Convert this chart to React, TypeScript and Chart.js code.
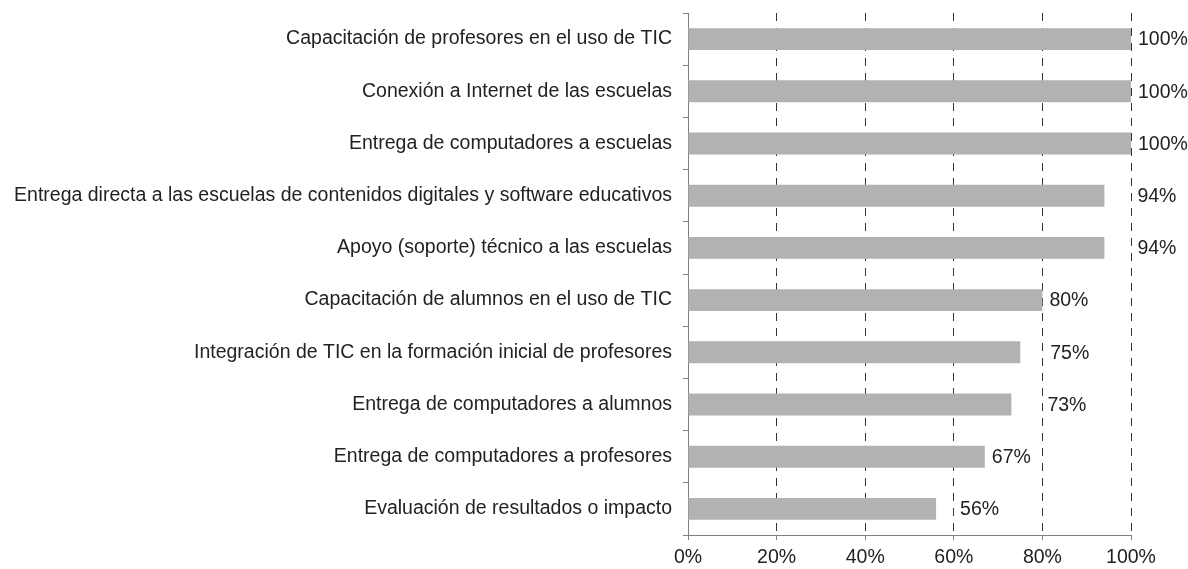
import React, { useEffect, useRef } from "react";
import { Chart, registerables } from "chart.js";

Chart.register(...registerables);

const categories = [
  "Capacitación de profesores en el uso de TIC",
  "Conexión a Internet de las escuelas",
  "Entrega de computadores a escuelas",
  "Entrega directa a las escuelas de contenidos digitales y software educativos",
  "Apoyo (soporte) técnico a las escuelas",
  "Capacitación de alumnos en el uso de TIC",
  "Integración de TIC en la formación inicial de profesores",
  "Entrega de computadores a alumnos",
  "Entrega de computadores a profesores",
  "Evaluación de resultados o impacto",
];

const values = [100, 100, 100, 94, 94, 80, 75, 73, 67, 56];

const xTicks = [0, 20, 40, 60, 80, 100];

const FONT = '"Liberation Sans", Arial, sans-serif';
const FONT_SIZE = 19.5;
const TEXT = "#222222";
const AXIS = "#808080";
// horizontal gap (px) between bar end and its value label, as placed in the reference
const labelGaps = [7, 7, 7, 33, 33, 7, 30, 36, 7, 24];

const valueLabels = {
  id: "valueLabels",
  afterDatasetsDraw(chart: any) {
    const ctx = chart.ctx;
    const meta = chart.getDatasetMeta(0);
    ctx.save();
    ctx.font = `${FONT_SIZE}px ${FONT}`;
    ctx.fillStyle = TEXT;
    ctx.textAlign = "left";
    ctx.textBaseline = "middle";
    meta.data.forEach((bar: any, i: number) => {
      ctx.fillText(`${values[i]}%`, bar.x + labelGaps[i], bar.y + 1);
    });
    ctx.restore();
  },
};

export default function App() {
  const ref = useRef<HTMLCanvasElement>(null);
  useEffect(() => {
    if (!ref.current) return;
    const chart = new Chart(ref.current, {
      type: "bar",
      data: {
        labels: categories,
        datasets: [
          {
            data: values,
            backgroundColor: "#b2b2b2",
            borderWidth: 0,
            barPercentage: 0.84,
            categoryPercentage: 0.5,
          },
        ],
      },
      options: {
        indexAxis: "y",
        animation: false,
        responsive: false,
        maintainAspectRatio: false,
        layout: { padding: { top: 13, right: 57, left: 0, bottom: 0 } },
        plugins: {
          legend: { display: false },
          tooltip: { enabled: false },
        },
        scales: {
          x: {
            min: 0,
            max: 100,
            afterBuildTicks: (scale: any) => {
              scale.ticks = xTicks.map((v) => ({ value: v }));
            },
            afterFit: (scale: any) => {
              scale.height = 34;
              scale.paddingLeft = 0;
              scale.paddingRight = 0;
            },
            ticks: {
              callback: (v: any) => `${v}%`,
              color: TEXT,
              font: { family: FONT, size: FONT_SIZE },
              padding: 6,
              maxRotation: 0,
            },
            grid: {
              color: (c: any) => (c.index === 0 ? "rgba(0,0,0,0)" : "#333333"),
              lineWidth: 1,
              drawTicks: true,
              tickLength: 5,
              tickColor: AXIS,
              tickBorderDash: [],
            },
            border: { display: true, color: AXIS, width: 1, dash: [8, 7] },
          },
          y: {
            afterFit: (scale: any) => {
              scale.width = 688;
              scale.paddingTop = 0;
              scale.paddingBottom = 0;
            },
            ticks: {
              color: TEXT,
              font: { family: FONT, size: FONT_SIZE },
              padding: 11,
            },
            grid: {
              offset: true,
              drawOnChartArea: false,
              drawTicks: true,
              tickLength: 5,
              tickColor: AXIS,
            },
            border: { display: true, color: AXIS, width: 1 },
          },
        },
      },
      plugins: [valueLabels],
    });
    return () => chart.destroy();
  }, []);

  return (
    <div style={{ position: "fixed", left: 0, top: 0, width: 1188, height: 569, background: "#fff" }}>
      <canvas ref={ref} width={1188} height={569} />
    </div>
  );
}
